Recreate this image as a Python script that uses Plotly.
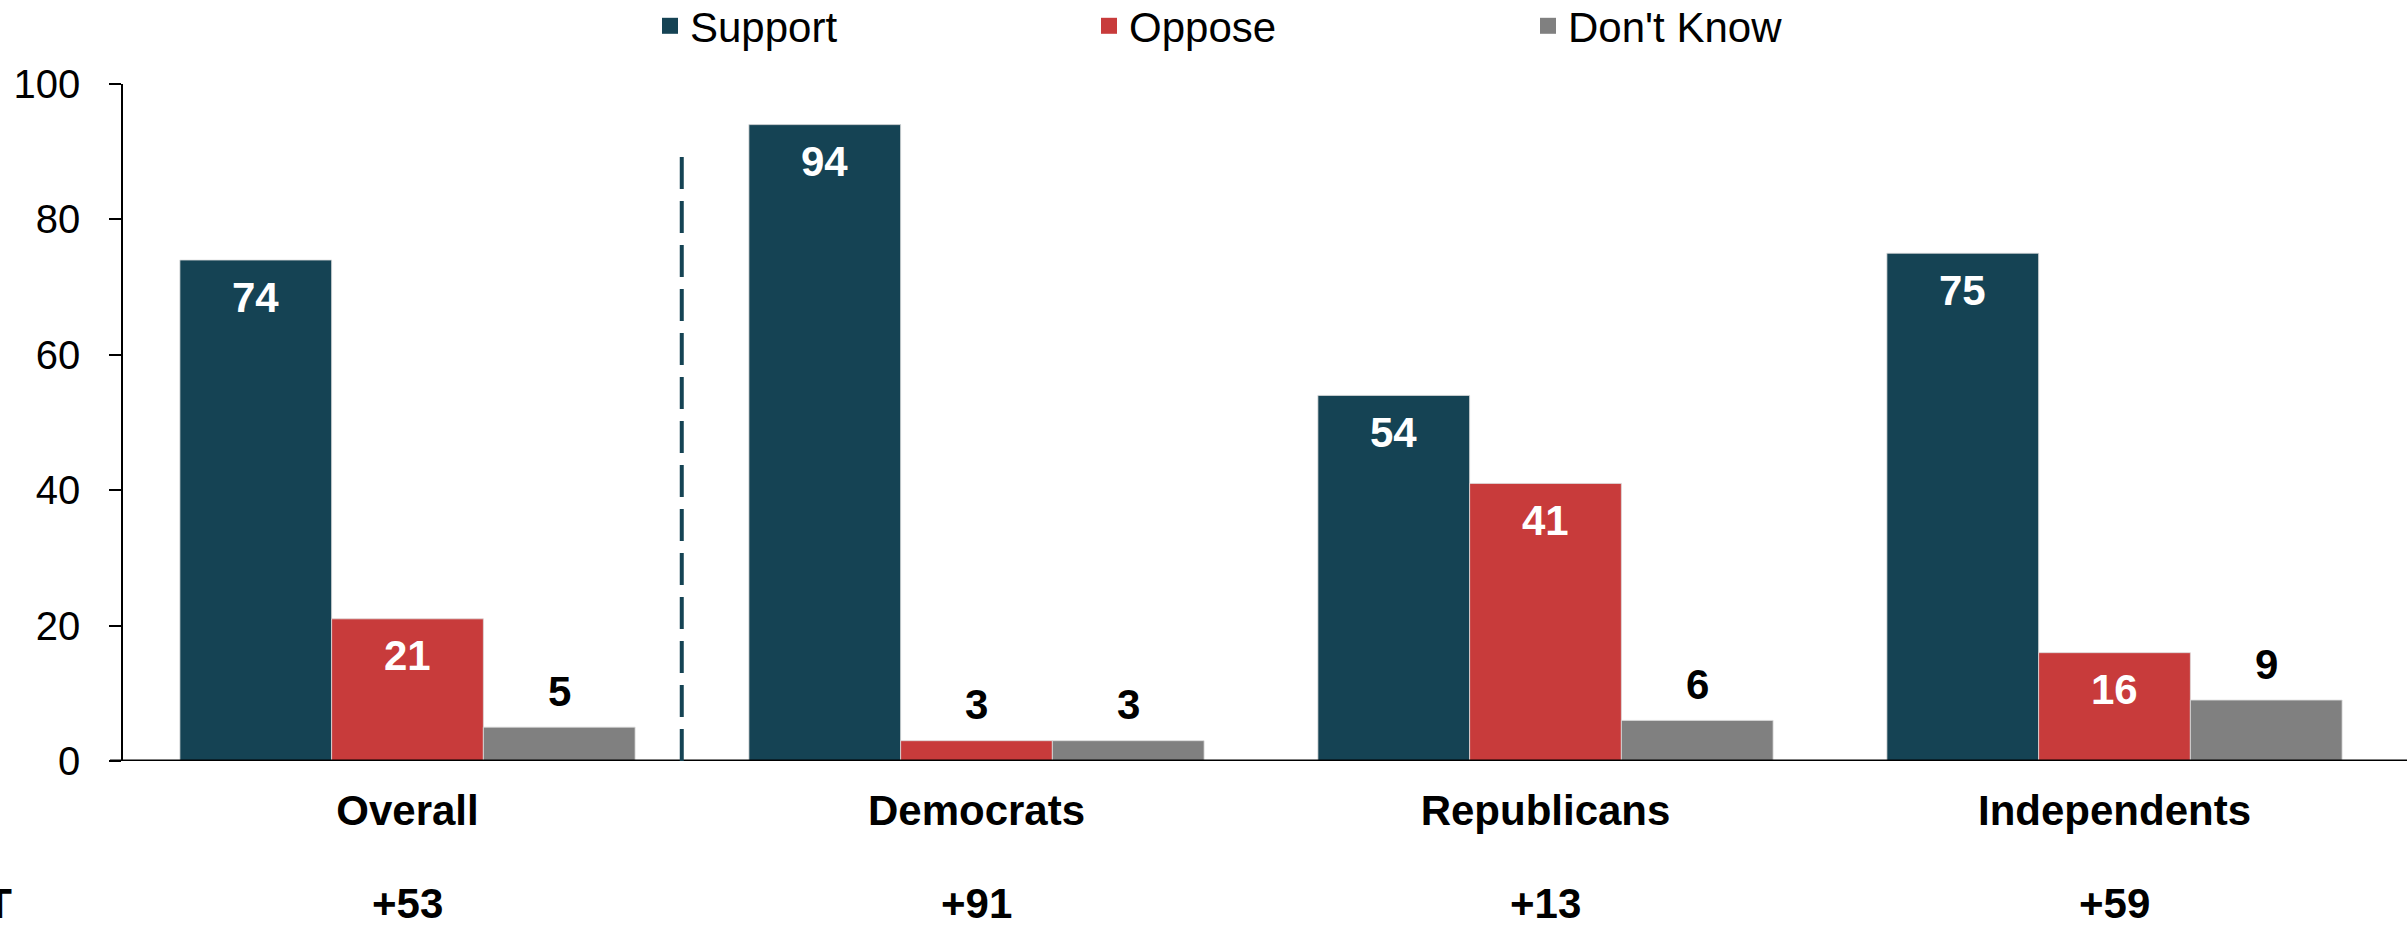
import plotly.graph_objects as go

categories = ["Overall", "Democrats", "Republicans", "Independents"]
net_labels = ["+53", "+91", "+13", "+59"]
series_names = ["Support", "Oppose", "Don't Know"]
support = [74, 94, 54, 75]
oppose = [21, 3, 41, 16]
dont_know = [5, 3, 6, 9]
series_values = [support, oppose, dont_know]
colors = ["#154354", "#C83B3B", "#808080"]

W, H = 2407, 928
ML, MR, MT, MB = 123, 8, 84, 167
BARGAP = 0.2
FONT = "Liberation Sans, Arial, sans-serif"

fig = go.Figure()
for name, vals, col in zip(series_names, series_values, colors):
    fig.add_trace(go.Bar(
        x=categories, y=vals, name=name, showlegend=False,
        marker=dict(color=col, line=dict(color="rgba(220,220,220,0.8)", width=1)),
        hoverinfo="skip",
    ))
    # legend proxy with larger square symbol
    fig.add_trace(go.Scatter(
        x=[None], y=[None], mode="markers", name=name,
        marker=dict(symbol="square", size=16, color=col),
    ))

pw = W - ML - MR
ph = H - MT - MB
spacing = pw / len(categories)
bw = spacing * (1 - BARGAP) / len(series_names)

annotations = []
for i, vals in enumerate(series_values):
    for cat, v in zip(categories, vals):
        inside = v >= 10
        annotations.append(dict(
            x=cat, y=v, xref="x", yref="y",
            text=f"<b>{v}</b>", showarrow=False,
            xshift=(i - 1) * bw,
            yanchor="middle", yshift=-37 if inside else 36,
            font=dict(family=FONT, size=42, color="white" if inside else "black"),
        ))

net_y = -(904 - (H - MB)) / ph
for cat, lab in zip(categories, net_labels):
    annotations.append(dict(
        x=cat, y=net_y, xref="x", yref="paper", text=f"<b>{lab}</b>",
        showarrow=False, yanchor="middle",
        font=dict(family=FONT, size=42, color="black"),
    ))
annotations.append(dict(
    x=(14 - ML) / pw, y=net_y, xref="paper", yref="paper", text="<b>NET</b>",
    showarrow=False, xanchor="right", yanchor="middle",
    font=dict(family=FONT, size=42, color="black"),
))

shapes = [
    dict(type="line", xref="paper", yref="y", x0=(110 - ML) / pw, x1=(W - ML) / pw,
         y0=0, y1=0, line=dict(color="black", width=3)),
    dict(type="line", xref="x", yref="y", x0=0.482, x1=0.482, y0=0, y1=90.5,
         line=dict(color="#154354", width=4, dash="32px,12px")),
]

fig.update_layout(
    width=W, height=H,
    margin=dict(l=ML, r=MR, t=MT, b=MB, autoexpand=False),
    paper_bgcolor="white", plot_bgcolor="white",
    barmode="group", bargap=BARGAP, bargroupgap=0,
    font=dict(family=FONT, size=40, color="black"),
    legend=dict(orientation="h", x=(650 - ML) / pw, xanchor="left",
                y=1 + (MT - 26) / ph, yanchor="middle", entrywidth=394,
                font=dict(family=FONT, size=42, color="black"),
                bgcolor="rgba(0,0,0,0)"),
    xaxis=dict(type="category", categoryorder="array", categoryarray=categories,
               range=[-0.5, 3.5], showline=False, ticks="", showgrid=False,
               tickmode="array", tickvals=categories,
               ticktext=[f"<b>{c}</b>" for c in categories],
               tickfont=dict(family=FONT, size=42, color="black"),
               ticklabelstandoff=21, automargin=False),
    yaxis=dict(range=[0, 100], dtick=20, tick0=0, showline=True, linecolor="black",
               linewidth=1.5, ticks="outside", ticklen=12, tickwidth=1.5,
               tickcolor="black", showgrid=False, zeroline=False,
               tickfont=dict(family=FONT, size=40, color="black"),
               ticklabelstandoff=21, automargin=False),
    annotations=annotations,
    shapes=shapes,
)

fig.write_html(
    "out.html",
    config={"displayModeBar": False},
    post_script="document.body.style.margin='0px';document.body.style.overflow='hidden';",
)
